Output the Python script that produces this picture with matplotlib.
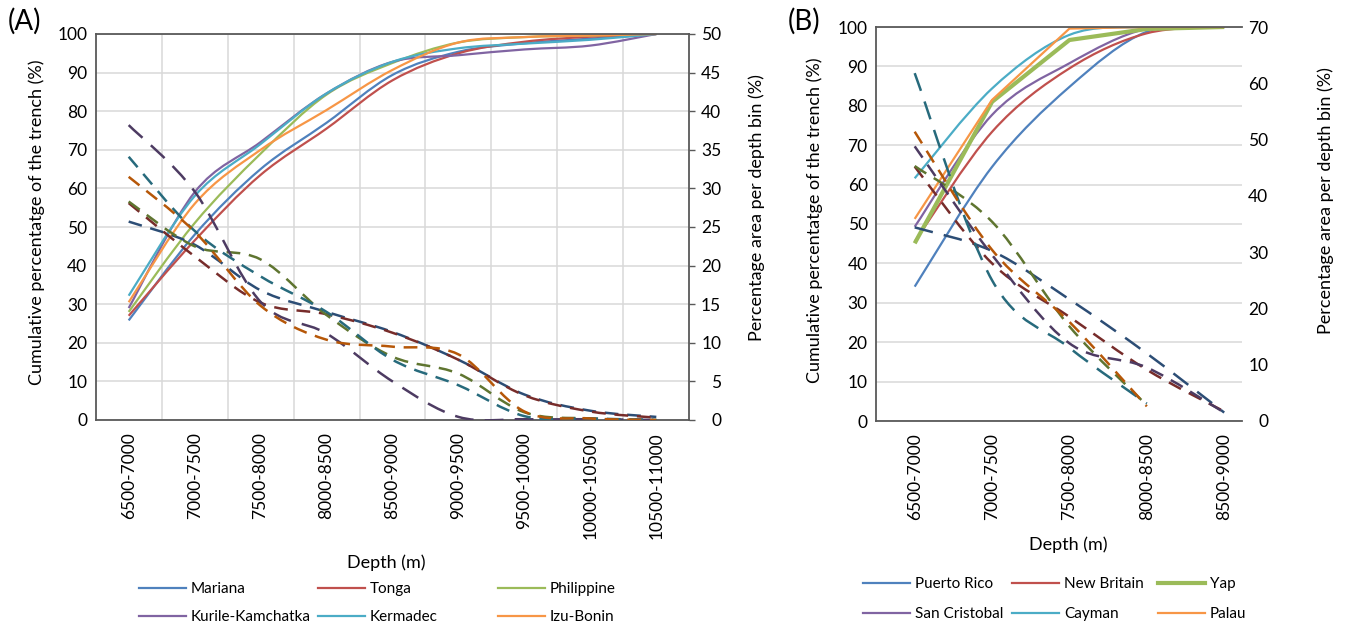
import numpy as np
import matplotlib
matplotlib.use("Agg")
import matplotlib.pyplot as plt
from matplotlib.path import Path
from matplotlib.patches import PathPatch
from matplotlib.lines import Line2D

plt.rcParams["font.family"] = ["Lato", "DejaVu Sans"]

# ---- data ----
bins_a = ["6500-7000", "7000-7500", "7500-8000", "8000-8500", "8500-9000",
          "9000-9500", "9500-10000", "10000-10500", "10500-11000"]
names_a = ["Mariana", "Tonga", "Philippine", "Kurile-Kamchatka", "Kermadec", "Izu-Bonin"]

cum_mariana = [25.8, 48.0, 65.0, 77.0, 89.4, 95.4, 97.6, 98.8, 100]
cum_tonga = [27.0, 46.5, 63.5, 75.5, 88.0, 95.0, 98.0, 99.3, 100]
cum_philippine = [28.0, 51.0, 69.0, 84.3, 92.5, 97.8, 99.2, 99.6, 100]
cum_kurile = [29.0, 59.0, 72.0, 84.6, 92.8, 94.5, 96.0, 97.0, 100]
cum_kermadec = [32.2, 58.0, 71.5, 84.6, 92.8, 96.3, 97.5, 98.5, 100]
cum_izu = [30.5, 56.0, 70.0, 80.3, 90.7, 97.8, 99.2, 99.6, 100]

pct_mariana = [25.7, 22.7, 16.8, 14.0, 11.4, 7.8, 3.3, 1.2, 0.4]
pct_tonga = [28.1, 21.2, 15.2, 13.7, 11.3, 7.8, 3.2, 1.1, 0.3]
pct_philippine = [28.3, 22.5, 20.8, 13.6, 8.2, 6.0, 1.0, 0.2, 0.0]
pct_kurile = [38.2, 29.6, 15.3, 11.2, 5.0, 0.4, 0.1, 0.1, 0.0]
pct_kermadec = [34.1, 24.5, 18.6, 14.0, 7.8, 4.5, 0.5, 0.2, 0.0]
pct_izu = [31.5, 24.4, 14.8, 10.4, 9.5, 8.5, 1.1, 0.2, 0.0]

bins_b = ["6500-7000", "7000-7500", "7500-8000", "8000-8500", "8500-9000"]
names_b = ["Puerto Rico", "New Britain", "Yap", "San Cristobal", "Cayman", "Palau"]

cum_puerto = [34.1, 64.5, 84.8, 98.8, 100]
cum_newbritain = [45.5, 73.4, 89.5, 98.4, 100]
cum_yap = [45.1, 81.0, 96.7, 99.5, 100]
cum_sancristobal = [49.3, 77.7, 90.8, 99.6, 100]
cum_cayman = [61.6, 84.4, 98.0, 100, 100]
cum_palau = [51.3, 81.5, 99.6, 100, 100]

pct_puerto = [34.4, 30.2, 21.6, 12.0, 1.5]
pct_newbritain = [45.2, 28.0, 18.5, 9.1, 1.7]
pct_yap = [45.3, 35.4, 16.8, 2.8, None]
pct_sancristobal = [48.8, 29.5, 13.8, 9.5, 1.5]
pct_cayman = [61.8, 25.0, 13.0, 3.1, None]
pct_palau = [51.4, 30.4, 17.6, 2.6, None]

# excel-ish palette: light for cumulative, dark for per-bin
light = ["#4F81BD", "#C0504D", "#9BBB59", "#8064A2", "#4BACC6", "#F79646"]
dark = ["#2C4D75", "#772C2A", "#5F7530", "#4D3B62", "#276A7C", "#B65708"]

DASH = (0, (5.5, 3.5))
LONGDASH = (0, (7.5, 4.5))


def curve(ax, ys, color, lw, ls="-", smooth=True):
    pts = np.array([(i, y) for i, y in enumerate(ys) if y is not None], float)
    if not smooth:
        ax.plot(pts[:, 0], pts[:, 1], color=color, lw=lw, ls=ls,
                solid_joinstyle="round", solid_capstyle="butt")
        return
    # smoothed line like excel: bezier through the points
    n = len(pts)
    verts = [pts[0]]
    codes = [Path.MOVETO]
    for i in range(n - 1):
        p0 = pts[max(i - 1, 0)]
        p1 = pts[i]
        p2 = pts[i + 1]
        p3 = pts[min(i + 2, n - 1)]
        verts += [p1 + (p2 - p0) / 6, p2 - (p3 - p1) / 6, p2]
        codes += [Path.CURVE4] * 3
    ax.add_patch(PathPatch(Path(verts, codes), fc="none", ec=color, lw=lw,
                           ls=ls, capstyle="butt"))


def style_axes(ax, ax2, ncat, right_lim, right_step, xmax, box=True, vgrid=True):
    ax.set_xlim(-0.5, xmax)
    ax.set_ylim(0, 100)
    ax.set_yticks(range(0, 101, 10))
    ax2.set_ylim(0, right_lim)
    ax2.set_yticks(range(0, right_lim + 1, right_step))
    ax.grid(axis="y", color="#D9D9D9", lw=1.1)
    if vgrid:
        ax.set_xticks(np.arange(0.5, ncat - 1), minor=True)
        ax.grid(axis="x", which="minor", color="#D9D9D9", lw=1.1)
    ax.set_axisbelow(True)
    ax.tick_params(axis="x", which="both", length=0, pad=9, labelsize=12.5)
    ax.tick_params(axis="y", length=0, pad=6, labelsize=12.5)
    for s in ax.spines.values():
        s.set_color("#595959")
        s.set_linewidth(1.3)
    for s in ax2.spines.values():
        s.set_visible(False)
    if not box:
        ax.spines["right"].set_visible(False)
    for lab in ax2.get_yticklabels():
        lab.set_horizontalalignment("right")


fig = plt.figure(figsize=(13.49, 6.29), dpi=100)
W, H = 1349, 629

# ---------------- panel A ----------------
axA = fig.add_axes([95.7 / W, 1 - 420 / H, 593.6 / W, 386 / H])
axA2 = axA.twinx()
cum_a = [cum_mariana, cum_tonga, cum_philippine, cum_kurile, cum_kermadec, cum_izu]
pct_a = [pct_mariana, pct_tonga, pct_philippine, pct_kurile, pct_kermadec, pct_izu]
for k in range(6):
    curve(axA, cum_a[k], light[k], 1.6)
for k in range(6):
    curve(axA2, pct_a[k], dark[k], 1.8, LONGDASH if k == 3 else DASH)

style_axes(axA, axA2, len(bins_a), 50, 5, 8.5)
axA.set_xticks(range(len(bins_a)))
axA.set_xticklabels(bins_a, rotation=90, va="top")
axA2.tick_params(axis="y", length=4, width=1, color="#595959", pad=19, labelsize=12.5)
axA.set_ylabel("Cumulative percentatge of the trench (%)", fontsize=13)
axA.yaxis.set_label_coords(-0.085, 0.512)
axA2.set_ylabel("Percentage area per depth bin (%)", fontsize=13)
axA2.yaxis.set_label_coords(1.10, 0.55)
axA.set_xlabel("Depth (m)", fontsize=13)
axA.xaxis.set_label_coords(0.489, -0.347)
fig.text(8 / W, 1 - 21 / H, "(A)", fontsize=20, va="center")

# ---------------- panel B ----------------
axB = fig.add_axes([876 / W, 1 - 421 / H, 366 / W, 394 / H])
axB2 = axB.twinx()
cum_b = [cum_puerto, cum_newbritain, cum_yap, cum_sancristobal, cum_cayman, cum_palau]
pct_b = [pct_puerto, pct_newbritain, pct_yap, pct_sancristobal, pct_cayman, pct_palau]
for k in range(6):
    curve(axB, cum_b[k], light[k], 3.0 if k == 2 else 1.6, smooth=k not in (2, 5))
for k in range(6):
    curve(axB2, pct_b[k], dark[k], 1.8, LONGDASH if k in (0, 4) else DASH)

style_axes(axB, axB2, len(bins_b), 70, 10, 4.23, box=False, vgrid=False)
axB.set_xticks(range(len(bins_b)))
axB.set_xticklabels(bins_b, rotation=90, va="top")
axB2.tick_params(axis="y", length=0, pad=19, labelsize=12.5)
axB.set_ylabel("Cumulative percentatge of the trench (%)", fontsize=13)
axB.yaxis.set_label_coords(-0.145, 0.51)
axB2.set_ylabel("Percentage area per depth bin (%)", fontsize=13)
axB2.yaxis.set_label_coords(1.205, 0.56)
axB.set_xlabel("Depth (m)", fontsize=13)
axB.xaxis.set_label_coords(0.525, -0.292)
fig.text(788 / W, 1 - 21 / H, "(B)", fontsize=20, va="center")

# ---------------- legends (equal column widths like excel) ----------------
def legend_cols(names, colors, widths, xs, yc, spacing):
    for c, x in enumerate(xs):
        idx = [c, c + 3]
        handles = [Line2D([], [], color=colors[i], lw=widths[i]) for i in idx]
        fig.legend(handles, [names[i] for i in idx], loc="center left",
                   bbox_to_anchor=(x / W, 1 - yc / H), frameon=False,
                   borderpad=0, borderaxespad=0, handlelength=3.1,
                   handletextpad=0.3, labelspacing=spacing, fontsize=11)

legend_cols(names_a, light, [1.6] * 6, [139, 318, 498], 603, 0.9)
legend_cols(names_b, light, [1.6, 1.6, 3.0, 1.6, 1.6, 1.6], [863, 1012, 1158], 599, 1.05)

fig.savefig("out.png", dpi=100)
